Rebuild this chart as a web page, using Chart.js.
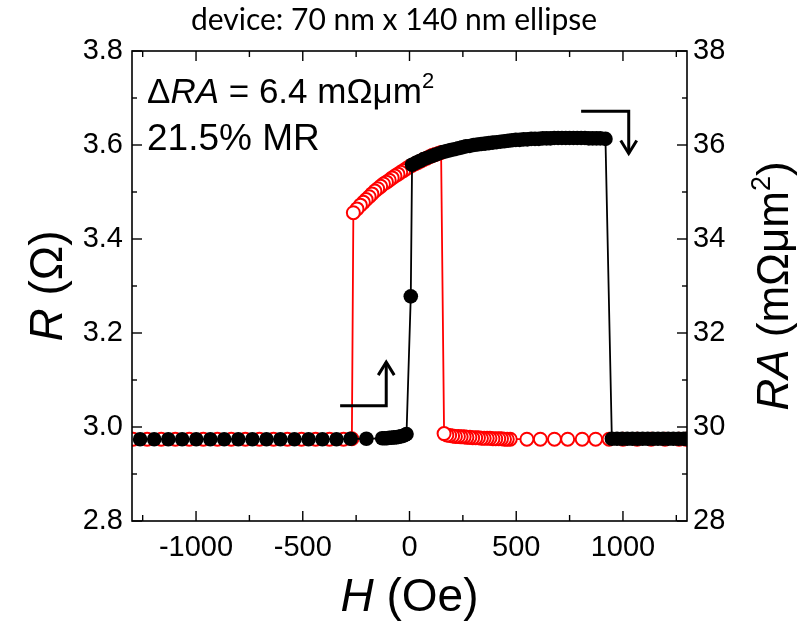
<!DOCTYPE html>
<html>
<head>
<meta charset="utf-8">
<script src="https://cdn.jsdelivr.net/npm/chart.js@4/dist/chart.umd.min.js"></script>
<style>
  html, body { margin: 0; padding: 0; background: #ffffff; }
  #wrap { width: 810px; height: 623px; }
</style>
</head>
<body>
<div id="wrap"><canvas id="c" width="810" height="623"></canvas></div>
<script>
// Field sweep up (-H to +H), black filled circles: field H (Oe) and resistance R (Ohm)
const blackH = [
  -1262, -1196, -1130, -1065, -999, -933, -868, -802, -736, -670, -605, -539, -473, -408, -342, -276, -202,
  -128, -117, -106, -95, -84, -73, -62, -51, -40, -30, -22, -14,
  6,
  12, 30, 48, 66, 84, 102, 120, 138, 156, 174, 192, 210, 228, 246, 264, 282, 300, 318, 336, 354,
  372, 390, 408, 426, 444, 462, 480, 498, 516, 534, 552, 570, 588, 606, 624, 642, 660, 678, 696,
  714, 732, 750, 768, 786, 804, 822, 840, 858, 876, 894, 918,
  948, 972, 996, 1020, 1044, 1068, 1092, 1116, 1140, 1164, 1188, 1212, 1236, 1260, 1284, 1300
];
const blackR = [
  2.974, 2.974, 2.974, 2.974, 2.974, 2.974, 2.974, 2.974, 2.974, 2.974, 2.974, 2.974, 2.974, 2.974, 2.974, 2.975, 2.975,
  2.976, 2.976, 2.976, 2.977, 2.977, 2.978, 2.978, 2.979, 2.980, 2.981, 2.983, 2.985,
  3.278,
  3.558, 3.562, 3.566, 3.570, 3.573, 3.576, 3.579, 3.582, 3.585, 3.587, 3.589, 3.591, 3.593, 3.595, 3.597, 3.598, 3.600, 3.601, 3.602, 3.603,
  3.604, 3.605, 3.606, 3.607, 3.608, 3.609, 3.610, 3.611, 3.611, 3.612, 3.612, 3.613, 3.613, 3.613, 3.614, 3.614, 3.614, 3.615, 3.615,
  3.615, 3.615, 3.615, 3.615, 3.615, 3.615, 3.615, 3.614, 3.614, 3.614, 3.614, 3.613,
  2.975, 2.975, 2.975, 2.975, 2.975, 2.975, 2.975, 2.975, 2.975, 2.975, 2.975, 2.975, 2.975, 2.975, 2.975, 2.975
];

// Field sweep down (+H to -H), red open circles
const redH = [
  1295, 1263, 1197, 1132, 1066, 1000, 935, 872, 809, 741, 679, 613, 550,
  472, 458, 445, 431, 418, 404, 391, 377, 364, 350, 337, 323, 310, 296, 283, 269, 256, 242, 229, 215, 202, 188, 175, 162,
  148, 135, 121, 108, 94, 81, 67, 54, 40, 27, 13, 0, -14, -27, -41, -54, -68, -81, -95, -108, -122, -135, -149, -162,
  -176, -189, -203, -216, -230, -246, -263,
  -270, -309, -375, -440, -506, -572, -637, -703, -769, -835, -900, -966, -1032, -1097, -1163, -1229, -1295
];
const redR = [
  2.974, 2.974, 2.974, 2.974, 2.974, 2.974, 2.974, 2.974, 2.974, 2.974, 2.974, 2.974, 2.974,
  2.974, 2.974, 2.974, 2.975, 2.975, 2.975, 2.975, 2.976, 2.976, 2.976, 2.976, 2.977, 2.977, 2.977, 2.978, 2.978, 2.979, 2.979, 2.980, 2.980, 2.981, 2.982, 2.983, 2.986,
  3.584, 3.582, 3.580, 3.578, 3.575, 3.572, 3.569, 3.566, 3.563, 3.560, 3.557, 3.554, 3.550, 3.546, 3.542, 3.538, 3.534, 3.530, 3.525, 3.521, 3.517, 3.512, 3.507, 3.502,
  3.496, 3.490, 3.484, 3.478, 3.472, 3.464, 3.456,
  2.975, 2.974, 2.974, 2.974, 2.974, 2.974, 2.974, 2.974, 2.974, 2.974, 2.974, 2.974, 2.974, 2.974, 2.974, 2.974, 2.974
];

// Axis ticks
const hMajorTicks = [-1000, -500, 0, 500, 1000];
const hMinorTicks = [-1250, -750, -250, 250, 750, 1250];
const rMajorTicks = [2.8, 3.0, 3.2, 3.4, 3.6, 3.8];
const rMinorTicks = [2.9, 3.1, 3.3, 3.5, 3.7];
const raMajorTicks = [28, 30, 32, 34, 36, 38];

// Sweep-direction arrows, in field / resistance units
const arrowSweepUp = { hStart: -325, hCorner: -109, rStart: 3.045, rTip: 3.138 };
const arrowSweepDown = { hStart: 804, hCorner: 1027, rStart: 3.672, rTip: 3.582 };

const SANS = '"Liberation Sans", Arial, sans-serif';
const TICK_SIZE = 29;

function toPoints(xs, ys) {
  return xs.map((x, i) => ({ x: x, y: ys[i] }));
}

// Draws a run of text pieces with mixed italic / superscript styling.
function richText(ctx, parts, x, y, size, align) {
  const fontFor = p => (p.italic ? 'italic ' : '') + (p.sup ? Math.round(size * 0.62) : size) + 'px ' + SANS;
  let total = 0;
  parts.forEach(p => { ctx.font = fontFor(p); p.w = ctx.measureText(p.t).width; total += p.w; });
  let cx = align === 'center' ? x - total / 2 : x;
  ctx.textAlign = 'left';
  ctx.textBaseline = 'alphabetic';
  parts.forEach(p => {
    ctx.font = fontFor(p);
    ctx.fillText(p.t, cx, p.sup ? y - size * 0.42 : y);
    cx += p.w;
  });
}

const framePlugin = {
  id: 'frameAndNotes',
  afterDatasetsDraw(chart) {
    const ctx = chart.ctx;
    const a = chart.chartArea;
    const xs = chart.scales.x, ys = chart.scales.y;
    ctx.save();
    ctx.strokeStyle = '#000';
    ctx.fillStyle = '#000';

    // frame
    ctx.lineWidth = 1.6;
    ctx.strokeRect(a.left, a.top, a.right - a.left, a.bottom - a.top);

    // inward ticks on all four sides
    ctx.lineWidth = 1.4;
    const tick = (x1, y1, x2, y2) => { ctx.beginPath(); ctx.moveTo(x1, y1); ctx.lineTo(x2, y2); ctx.stroke(); };
    const hTick = (v, len) => {
      const px = xs.getPixelForValue(v);
      tick(px, a.bottom, px, a.bottom - len);
      tick(px, a.top, px, a.top + len);
    };
    const rTick = (v, len) => {
      const py = ys.getPixelForValue(v);
      tick(a.left, py, a.left + len, py);
      tick(a.right, py, a.right - len, py);
    };
    hMajorTicks.forEach(v => hTick(v, 10));
    hMinorTicks.forEach(v => hTick(v, 6));
    rMajorTicks.forEach(v => rTick(v, 10));
    rMinorTicks.forEach(v => rTick(v, 5));

    // sweep arrows
    ctx.lineWidth = 3;
    ctx.lineJoin = 'miter';
    const drawArrow = (ar) => {
      const x0 = xs.getPixelForValue(ar.hStart), x1 = xs.getPixelForValue(ar.hCorner);
      const y0 = ys.getPixelForValue(ar.rStart), y1 = ys.getPixelForValue(ar.rTip);
      ctx.beginPath(); ctx.moveTo(x0, y0); ctx.lineTo(x1, y0); ctx.lineTo(x1, y1); ctx.stroke();
      const dir = y1 < y0 ? 1 : -1;
      ctx.beginPath();
      ctx.moveTo(x1 - 8, y1 + dir * 13); ctx.lineTo(x1, y1); ctx.lineTo(x1 + 8, y1 + dir * 13);
      ctx.stroke();
    };
    drawArrow(arrowSweepUp);
    drawArrow(arrowSweepDown);

    // in-plot annotations
    richText(ctx, [{ t: '\u0394' }, { t: 'RA', italic: true }, { t: ' = 6.4 m\u03A9\u03BCm' }, { t: '2', sup: true }], 147, 103, 35, 'left');
    richText(ctx, [{ t: '21.5% MR' }], 147, 150, 37, 'left');

    // title
    ctx.font = '30px Lato, "Open Sans", sans-serif';
    ctx.textAlign = 'center';
    ctx.textBaseline = 'alphabetic';
    ctx.fillText('device: 70 nm x 140 nm ellipse', 394, 30);

    // axis titles
    richText(ctx, [{ t: 'H', italic: true }, { t: ' (Oe)' }], (a.left + a.right) / 2, 611, 46, 'center');

    ctx.save();
    ctx.translate(62, (a.top + a.bottom) / 2);
    ctx.rotate(-Math.PI / 2);
    richText(ctx, [{ t: 'R', italic: true }, { t: ' (\u03A9)' }], 0, 0, 46, 'center');
    ctx.restore();

    ctx.save();
    ctx.translate(788, (a.top + a.bottom) / 2);
    ctx.rotate(-Math.PI / 2);
    richText(ctx, [{ t: 'RA', italic: true }, { t: ' (m\u03A9\u03BCm' }, { t: '2', sup: true }, { t: ')' }], 0, 0, 44, 'center');
    ctx.restore();

    ctx.restore();
  }
};

new Chart(document.getElementById('c'), {
  type: 'scatter',
  data: {
    datasets: [
      {
        label: 'sweep up',
        data: toPoints(blackH, blackR),
        showLine: true,
        borderColor: '#000000',
        borderWidth: 1.8,
        pointRadius: 7.3,
        pointHoverRadius: 7.3,
        pointBorderWidth: 0,
        pointBackgroundColor: '#000000',
        pointBorderColor: '#000000',
        yAxisID: 'y'
      },
      {
        label: 'sweep down',
        data: toPoints(redH, redR),
        showLine: true,
        borderColor: '#ff0000',
        borderWidth: 1.8,
        pointRadius: 6.5,
        pointHoverRadius: 6.5,
        pointBorderWidth: 2,
        pointBackgroundColor: '#ffffff',
        pointBorderColor: '#ff0000',
        yAxisID: 'y'
      }
    ]
  },
  options: {
    responsive: false,
    devicePixelRatio: 1,
    animation: false,
    events: [],
    layout: { padding: { top: 51, left: 0, right: 0, bottom: 0 } },
    plugins: { legend: { display: false }, tooltip: { enabled: false }, title: { display: false } },
    scales: {
      x: {
        type: 'linear',
        min: -1300,
        max: 1300,
        grid: { display: false, drawTicks: false },
        border: { display: false },
        afterBuildTicks: s => { s.ticks = hMajorTicks.map(v => ({ value: v })); },
        afterFit: s => { s.height = 102; },
        ticks: { color: '#000', font: { family: SANS, size: TICK_SIZE }, padding: 10, maxRotation: 0, autoSkip: false, callback: v => String(v) }
      },
      y: {
        type: 'linear',
        position: 'left',
        min: 2.8,
        max: 3.8,
        grid: { display: false, drawTicks: false },
        border: { display: false },
        afterBuildTicks: s => { s.ticks = rMajorTicks.map(v => ({ value: v })); },
        afterFit: s => { s.width = 132; },
        ticks: { color: '#000', font: { family: SANS, size: TICK_SIZE }, padding: 9, autoSkip: false, callback: v => Number(v).toFixed(1) }
      },
      y2: {
        type: 'linear',
        position: 'right',
        min: 28,
        max: 38,
        grid: { display: false, drawTicks: false },
        border: { display: false },
        afterBuildTicks: s => { s.ticks = raMajorTicks.map(v => ({ value: v })); },
        afterFit: s => { s.width = 123; },
        ticks: { color: '#000', font: { family: SANS, size: TICK_SIZE }, padding: 6, autoSkip: false, callback: v => String(v) }
      }
    }
  },
  plugins: [framePlugin]
});
</script>
</body>
</html>
